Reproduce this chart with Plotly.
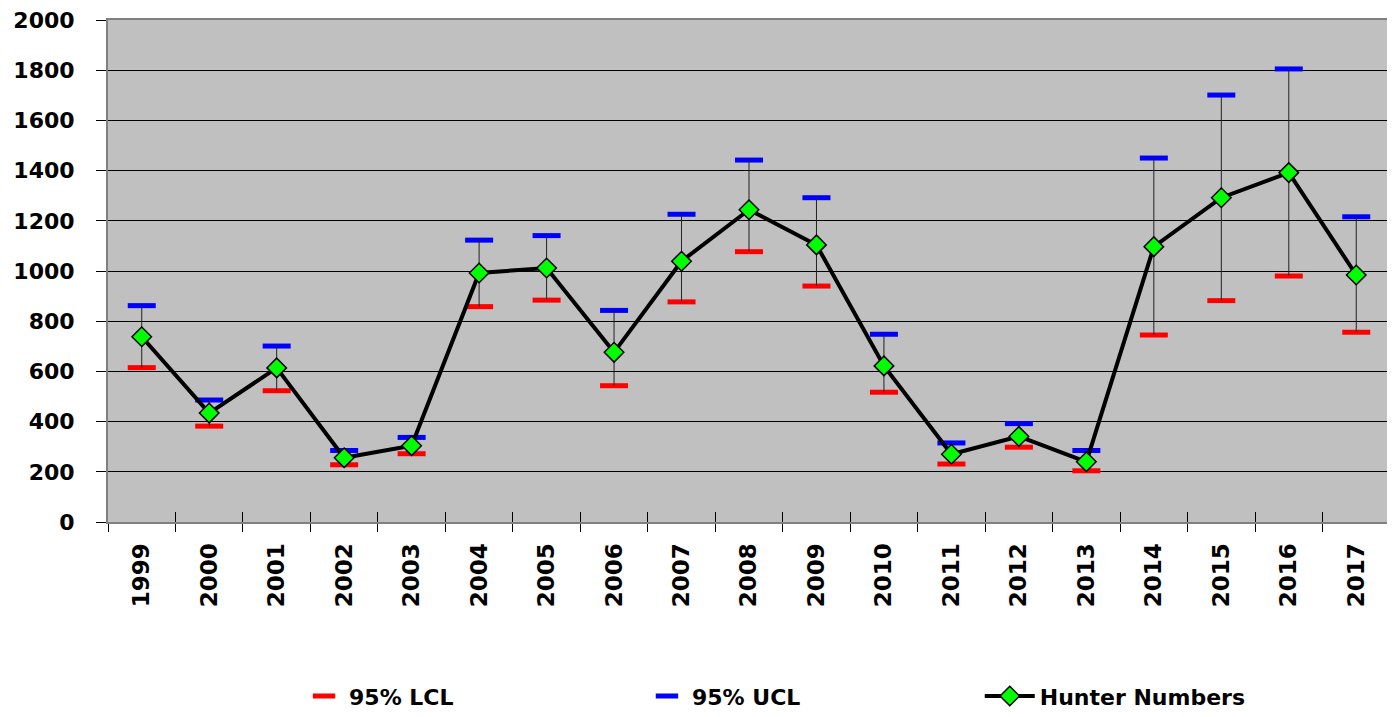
import plotly.graph_objects as go

years = ["1999", "2000", "2001", "2002", "2003", "2004", "2005", "2006", "2007", "2008",
         "2009", "2010", "2011", "2012", "2013", "2014", "2015", "2016", "2017"]
hunters = [738, 434, 614, 256, 304, 992, 1012, 676, 1039, 1244,
           1104, 622, 270, 341, 240, 1097, 1292, 1392, 984]
lcl = [615, 382, 523, 228, 272, 858, 884, 543, 877, 1077,
       940, 517, 231, 298, 204, 745, 882, 980, 756]
ucl = [862, 486, 701, 285, 337, 1123, 1141, 843, 1226, 1442,
       1292, 748, 315, 392, 285, 1450, 1701, 1805, 1216]
y_ticks = [0, 200, 400, 600, 800, 1000, 1200, 1400, 1600, 1800, 2000]

FONT = "DejaVu Sans"
LEG_FONT = dict(family=FONT, size=22, color="black", weight="bold")

err_plus = [u - h for u, h in zip(ucl, hunters)]
err_minus = [h - l for h, l in zip(hunters, lcl)]

fig = go.Figure()

fig.add_trace(go.Scatter(
    x=years, y=lcl, name="95% LCL", mode="markers", legend="legend",
    marker=dict(symbol="line-ew", size=20, color="#FF0000",
                line=dict(color="#FF0000", width=5)),
))
fig.add_trace(go.Scatter(
    x=years, y=ucl, name="95% UCL", mode="markers", legend="legend2",
    marker=dict(symbol="line-ew", size=20, color="#0000FF",
                line=dict(color="#0000FF", width=5)),
))
fig.add_trace(go.Scatter(
    x=years, y=hunters, name="Hunter Numbers", mode="lines+markers", legend="legend3",
    line=dict(color="black", width=4),
    marker=dict(symbol="diamond", size=15, color="#00FF00",
                line=dict(color="black", width=1.5)),
    error_y=dict(type="data", array=err_plus, arrayminus=err_minus,
                 symmetric=False, width=0, thickness=1, color="#222222"),
))

# invisible trace to activate the inside tick marks on the overlay x axis
fig.add_trace(go.Scatter(x=years, y=hunters, xaxis="x2", mode="none",
                         showlegend=False, hoverinfo="skip"))

leg_common = dict(orientation="h", yanchor="middle", y=-0.347, xanchor="left",
                  font=LEG_FONT, bgcolor="rgba(0,0,0,0)")

# page body has an 8px default margin; the figure is sized/offset to compensate
fig.update_layout(
    width=1387, height=709,
    margin=dict(l=100, r=5, t=12, b=195, autoexpand=False),
    paper_bgcolor="white",
    plot_bgcolor="#C0C0C0",
    font=dict(family=FONT, size=20, color="black"),
    showlegend=True,
    legend=dict(x=0.149, itemwidth=40, **leg_common),
    legend2=dict(x=0.4165, itemwidth=40, **leg_common),
    legend3=dict(x=0.680, itemwidth=50, **leg_common),
    xaxis=dict(
        type="category", categoryorder="array", categoryarray=years,
        tickangle=-90, ticks="outside", ticklen=8, tickcolor="black",
        tickson="boundaries", showgrid=False, automargin=False,
        ticklabelstandoff=10,
        showline=True, linecolor="#808080", linewidth=2, mirror=True,
        tickfont=dict(family=FONT, size=23, color="black", weight="bold"),
        range=[-0.5, 18.5],
    ),
    xaxis2=dict(
        type="category", categoryorder="array", categoryarray=years,
        overlaying="x", matches="x", ticks="inside", ticklen=10,
        tickcolor="black", tickson="boundaries", showticklabels=False,
        showgrid=False, showline=False, automargin=False,
    ),
    yaxis=dict(
        range=[0, 2000], tickvals=y_ticks, ticks="outside", ticklen=10,
        tickcolor="black", showgrid=True, gridcolor="black", gridwidth=1,
        showline=True, linecolor="#808080", linewidth=2, mirror=True,
        zeroline=False, automargin=False, ticklabelstandoff=17,
        ticklabeloverflow="allow",
        tickfont=dict(family=FONT, size=22, color="black", weight="bold"),
    ),
)

fig.write_html("out.html")
